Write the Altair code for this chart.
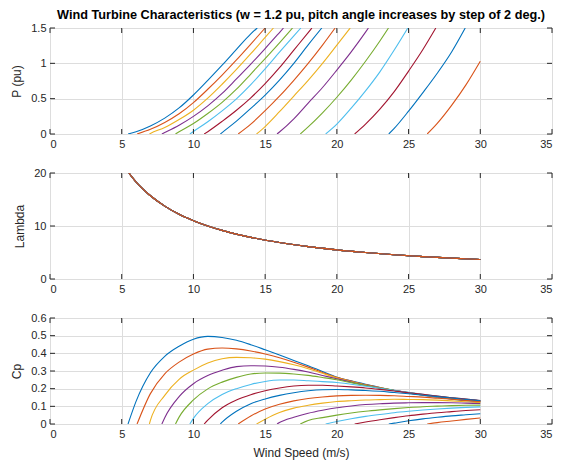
import math
import altair as alt
import pandas as pd

# ---------------- data ----------------
pitch = [0, 2, 4, 6, 8, 10, 12, 14, 16, 18, 20, 22, 24, 26, 28, 30]
series_colors = ["#0072BD", "#D95319", "#EDB120", "#7E2F8E", "#77AC30", "#4DBEEE", "#A2142F",
                 "#0072BD", "#D95319", "#EDB120", "#7E2F8E", "#77AC30", "#4DBEEE", "#A2142F",
                 "#0072BD", "#D95319"]

# wind speed where each curve leaves zero (m/s)
cut_in = [5.44, 6.07, 6.93, 7.8, 8.75, 9.75, 10.75, 11.88, 13.12, 14.4, 15.83, 17.45, 19.22, 21.24, 23.62, 26.3]

# Cp at integer wind speeds, starting at the first integer speed after cut-in, up to 30 m/s
cp_b00 = [0.128, 0.29, 0.383, 0.44, 0.48, 0.496, 0.49, 0.474, 0.449, 0.42, 0.39, 0.36, 0.33, 0.297, 0.265, 0.244, 0.225, 0.207, 0.191, 0.176, 0.163, 0.151, 0.141, 0.132, 0.125]
cp_b02 = [0.172, 0.284, 0.35, 0.396, 0.424, 0.43, 0.425, 0.413, 0.396, 0.375, 0.35, 0.322, 0.292, 0.264, 0.243, 0.223, 0.206, 0.19, 0.176, 0.164, 0.153, 0.143, 0.134, 0.127]
cp_b04 = [0.02, 0.162, 0.253, 0.305, 0.345, 0.369, 0.377, 0.375, 0.367, 0.353, 0.335, 0.313, 0.287, 0.261, 0.24, 0.221, 0.205, 0.19, 0.177, 0.165, 0.155, 0.145, 0.137, 0.129]
cp_b06 = [0.036, 0.155, 0.228, 0.274, 0.304, 0.325, 0.33, 0.328, 0.321, 0.309, 0.294, 0.275, 0.256, 0.237, 0.219, 0.204, 0.19, 0.178, 0.166, 0.156, 0.147, 0.138, 0.131]
cp_b08 = [0.039, 0.136, 0.199, 0.237, 0.264, 0.283, 0.289, 0.288, 0.283, 0.275, 0.263, 0.25, 0.234, 0.218, 0.203, 0.19, 0.178, 0.167, 0.157, 0.148, 0.14, 0.132]
cp_b10 = [0.032, 0.115, 0.167, 0.2, 0.224, 0.241, 0.249, 0.249, 0.245, 0.24, 0.235, 0.225, 0.214, 0.202, 0.19, 0.179, 0.168, 0.158, 0.149, 0.141, 0.133]
cp_b12 = [0.022, 0.092, 0.136, 0.166, 0.188, 0.204, 0.215, 0.219, 0.219, 0.215, 0.21, 0.204, 0.196, 0.187, 0.177, 0.168, 0.158, 0.149, 0.141, 0.133]
cp_b14 = [0.01, 0.072, 0.115, 0.142, 0.162, 0.177, 0.188, 0.194, 0.195, 0.193, 0.19, 0.185, 0.178, 0.171, 0.163, 0.155, 0.147, 0.139, 0.131]
cp_b16 = [0.045, 0.085, 0.112, 0.131, 0.144, 0.153, 0.159, 0.162, 0.163, 0.162, 0.16, 0.156, 0.152, 0.146, 0.14, 0.133, 0.125]
cp_b18 = [0.027, 0.065, 0.09, 0.106, 0.118, 0.127, 0.132, 0.136, 0.138, 0.14, 0.139, 0.138, 0.135, 0.131, 0.126, 0.121]
cp_b20 = [0.008, 0.038, 0.061, 0.078, 0.092, 0.102, 0.11, 0.115, 0.118, 0.12, 0.121, 0.121, 0.12, 0.118, 0.116]
cp_b22 = [0.02, 0.036, 0.05, 0.062, 0.072, 0.08, 0.087, 0.093, 0.098, 0.101, 0.104, 0.106, 0.107]
cp_b24 = [0.014, 0.03, 0.043, 0.054, 0.064, 0.072, 0.079, 0.085, 0.09, 0.094, 0.097]
cp_b26 = [0.011, 0.024, 0.036, 0.047, 0.056, 0.064, 0.07, 0.076, 0.081]
cp_b28 = [0.005, 0.018, 0.029, 0.038, 0.046, 0.052, 0.058]
cp_b30 = [0.008, 0.017, 0.026, 0.034]

# P (pu) at integer wind speeds after cut-in, until the curve leaves the top of the axes
p_b00 = [0.032, 0.114, 0.225, 0.369, 0.552, 0.759, 0.974, 1.198, 1.417]
p_b02 = [0.066, 0.163, 0.286, 0.444, 0.633, 0.834, 1.048, 1.272]
p_b04 = [0.008, 0.091, 0.204, 0.337, 0.507, 0.704, 0.914, 1.136, 1.368]
p_b06 = [0.02, 0.124, 0.249, 0.398, 0.574, 0.78, 0.989, 1.209, 1.436]
p_b08 = [0.031, 0.148, 0.29, 0.448, 0.634, 0.849, 1.067, 1.29]
p_b10 = [0.036, 0.174, 0.328, 0.498, 0.698, 0.923, 1.158, 1.389]
p_b12 = [0.033, 0.179, 0.336, 0.512, 0.713, 0.939, 1.187, 1.435]
p_b14 = [0.02, 0.182, 0.363, 0.551, 0.763, 1.0, 1.261]
p_b16 = [0.14, 0.33, 0.535, 0.76, 1.0, 1.258]
p_b18 = [0.105, 0.315, 0.537, 0.76, 1.0, 1.258]
p_b20 = [0.028, 0.215, 0.438, 0.658, 0.905, 1.162, 1.441]
p_b22 = [0.1, 0.299, 0.52, 0.763, 1.029, 1.316]
p_b24 = [0.14, 0.365, 0.61, 0.88, 1.188]
p_b26 = [0.14, 0.352, 0.6, 0.89, 1.196]
p_b28 = [0.079, 0.323, 0.586, 0.86, 1.161]
p_b30 = [0.15, 0.405, 0.695, 1.03]
# wind speed where each P curve reaches the top of the axes (1.5 pu)
p_top_level = 1.5
p_top_speed = [14.45, 15.0, 15.58, 16.28, 16.91, 17.49, 18.26, 18.95, 19.88, 20.93, 22.2, 23.6, 24.95, 26.9, 28.95, None]

# tip speed ratio (identical for every pitch angle)
lam_speed = [5.5, 6, 6.5, 7, 8, 9, 10, 11, 12, 14, 16, 18, 20, 22, 24, 26, 28, 30]
lam_value = [20, 18.3, 16.9, 15.7, 13.75, 12.2, 11.0, 10.0, 9.17, 7.86, 6.88, 6.11, 5.5, 5.0, 4.58, 4.23, 3.93, 3.67]

x_ticks = [0, 5, 10, 15, 20, 25, 30, 35]
p_ticks = [0, 0.5, 1, 1.5]
lam_ticks = [0, 10, 20]
cp_ticks = [0, 0.1, 0.2, 0.3, 0.4, 0.5, 0.6]

cp_lists = [cp_b00, cp_b02, cp_b04, cp_b06, cp_b08, cp_b10, cp_b12, cp_b14,
            cp_b16, cp_b18, cp_b20, cp_b22, cp_b24, cp_b26, cp_b28, cp_b30]
p_lists = [p_b00, p_b02, p_b04, p_b06, p_b08, p_b10, p_b12, p_b14,
           p_b16, p_b18, p_b20, p_b22, p_b24, p_b26, p_b28, p_b30]

keys = [f"{b:02d}" for b in pitch]


def build(lists, top_speed=None):
    rows = []
    for i, vals in enumerate(lists):
        k = keys[i]
        rows.append({"s": k, "speed": cut_in[i], "y": 0.0})
        first = math.floor(cut_in[i]) + 1
        for j, v in enumerate(vals):
            rows.append({"s": k, "speed": first + j, "y": v})
        if top_speed is not None and top_speed[i] is not None:
            rows.append({"s": k, "speed": top_speed[i], "y": p_top_level})
    return pd.DataFrame(rows)


p_df = build(p_lists, p_top_speed)
cp_df = build(cp_lists)
lam_df = pd.DataFrame([{"s": k, "speed": s, "y": v}
                       for k in keys for s, v in zip(lam_speed, lam_value)])

# ---------------- styling ----------------
W, H = 502, 106
DARK = "#262626"
FONT = "Liberation Sans"


def panel(df, ydom, yticks, ytitle, xtitle="", title=None):
    xs = alt.Scale(domain=[0, 35], nice=False, zero=False)
    ys = alt.Scale(domain=ydom, nice=False, zero=False)
    xax = alt.Axis(values=x_ticks, title=xtitle, format="~g", grid=True, ticks=False,
                   domain=False, labelPadding=4, titlePadding=8, titleFontWeight="normal",
                   titleFontSize=12, labelFontSize=11, labelColor=DARK, titleColor=DARK,
                   labelFont=FONT, titleFont=FONT)
    yax = alt.Axis(values=yticks, title=ytitle, format="~g", grid=True, ticks=False,
                   domain=False, labelPadding=4, titlePadding=7, titleFontWeight="normal",
                   titleFontSize=12, labelFontSize=11, labelColor=DARK, titleColor=DARK,
                   labelFont=FONT, titleFont=FONT)
    xenc = alt.X("speed:Q", scale=xs, axis=xax)
    yenc = alt.Y("y:Q", scale=ys, axis=yax)

    lines = alt.Chart(df).mark_line(interpolate="monotone", strokeWidth=1.1, clip=True).encode(
        x=xenc, y=yenc,
        color=alt.Color("s:N", scale=alt.Scale(domain=keys, range=series_colors), legend=None),
    )
    xt = pd.DataFrame({"speed": x_ticks})
    yt = pd.DataFrame({"y": yticks})
    t_bot = alt.Chart(xt).mark_rule(color=DARK, strokeWidth=1).encode(
        x=xenc, y=alt.value(H), y2=alt.value(H - 5))
    t_top = alt.Chart(xt).mark_rule(color=DARK, strokeWidth=1).encode(
        x=xenc, y=alt.value(0), y2=alt.value(5))
    t_left = alt.Chart(yt).mark_rule(color=DARK, strokeWidth=1).encode(
        y=yenc, x=alt.value(0), x2=alt.value(5))
    t_right = alt.Chart(yt).mark_rule(color=DARK, strokeWidth=1).encode(
        y=yenc, x=alt.value(W - 5), x2=alt.value(W))
    ch = alt.layer(lines, t_bot, t_top, t_left, t_right).properties(width=W, height=H)
    if title is not None:
        ch = ch.properties(title=alt.TitleParams(
            text=title, anchor="middle", fontSize=12.7, fontWeight="bold",
            font=FONT, color="#000000", offset=0))
    return ch


top = panel(p_df, [0, 1.5], p_ticks, "P (pu)",
            title="Wind Turbine Characteristics (w = 1.2 pu, pitch angle increases by step of 2 deg.)")
mid = panel(lam_df, [0, 20], lam_ticks, "Lambda")
bot = panel(cp_df, [0, 0.6], cp_ticks, "Cp", xtitle="Wind Speed (m/s)")

chart = alt.vconcat(top, mid, bot, spacing=39, bounds="flush").properties(
    padding={"left": 2, "top": 0, "right": 5, "bottom": 5}
).configure_view(
    stroke=DARK, strokeWidth=1
).configure_axis(
    gridColor="#DFDFDF", gridWidth=1
).configure(background="white")

chart.save("out.html", embed_options={"renderer": "svg", "actions": False})
